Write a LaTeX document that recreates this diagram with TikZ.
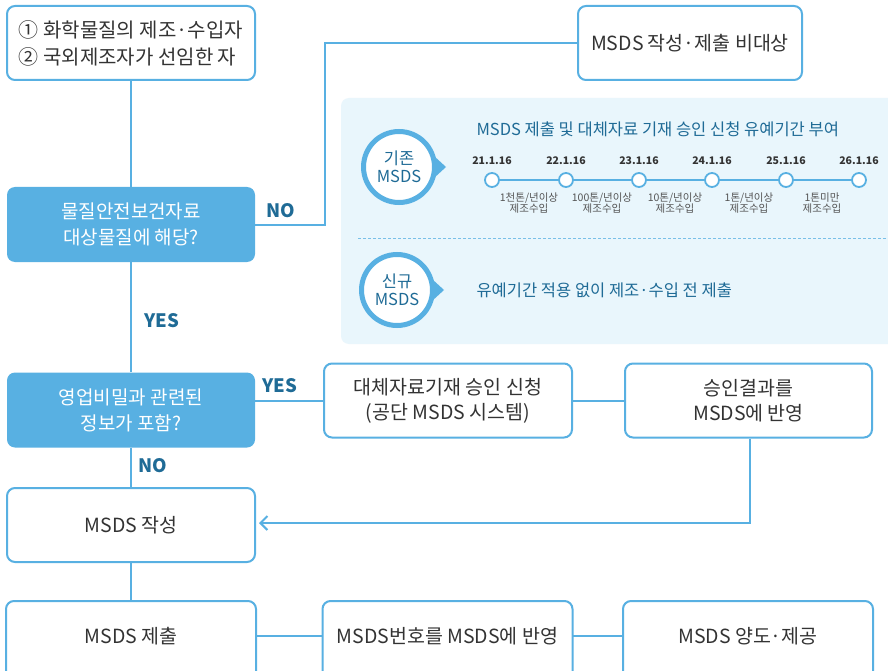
\documentclass[tikz,border=0pt]{standalone}
\usepackage{fontspec}
\setmainfont{Noto Sans CJK KR}
\usetikzlibrary{arrows.meta}
\definecolor{lineblue}{HTML}{58B0E2}
\definecolor{panelfill}{HTML}{E9F6FC}
\definecolor{darkblue}{HTML}{1F6B96}
\definecolor{txtgray}{HTML}{333333}
\definecolor{smallgray}{HTML}{555555}
\newcommand\fz[2]{\fontsize{#1pt}{#2pt}\selectfont}
\tikzset{
  conn/.style={draw=lineblue, line width=2pt},
  wbox/.style={draw=lineblue, line width=2pt, fill=white, rounded corners=8pt, minimum width=248pt, minimum height=74pt, align=center, text=txtgray, font=\fz{19.5}{25}, inner sep=0pt},
  fbox/.style={fill=lineblue, rounded corners=8pt, minimum width=248pt, minimum height=75pt, align=center, text=white, font=\fz{19}{26}, inner sep=0pt},
  lbl/.style={text=darkblue, font=\bfseries\fz{18.5}{20}},
  badge/.style={circle, draw=lineblue, line width=5pt, fill=white, minimum size=71pt, inner sep=0pt, align=center, text=darkblue, font=\fz{16.5}{18}},
  tdot/.style={circle, draw=lineblue, line width=1.8pt, fill=white, minimum size=14pt, inner sep=0pt},
  datetxt/.style={text=txtgray, font=\bfseries\fz{10.5}{13}},
  smalltxt/.style={text=smallgray, font=\fz{10.5}{11}, align=center},
}
\begin{document}
\begin{tikzpicture}[x=1pt,y=-1pt]
\useasboundingbox (0,0) rectangle (888,671);
\clip (0,0) rectangle (888,671);
\fill[white] (0,0) rectangle (888,671);

% info panel
\fill[panelfill, rounded corners=8pt] (341,98) rectangle (900,344);
\node[anchor=west, text=darkblue, font=\fz{16.5}{18}] (title) at (473,129) {MSDS 제출 및 대체자료 기재 승인 신청 유예기간 부여};
\node[badge] (old) at (399,167) {기존\\MSDS};
\fill[lineblue] ([shift={(-3,-11)}]old.east) -- ([shift={(9,0)}]old.east) -- ([shift={(-3,11)}]old.east) -- cycle;

\node[tdot] (t1) at (492,180) {};
\node[tdot] (t2) at (566,180) {};
\node[tdot] (t3) at (639,180) {};
\node[tdot] (t4) at (712,180) {};
\node[tdot] (t5) at (786,180) {};
\node[tdot] (t6) at (859,180) {};
\draw[conn] (t1) -- (t2) (t2) -- (t3) (t3) -- (t4) (t4) -- (t5) (t5) -- (t6);
\node[datetxt] (d1) at (492,161) {21.1.16};
\node[datetxt] (d2) at (566,161) {22.1.16};
\node[datetxt] (d3) at (639,161) {23.1.16};
\node[datetxt] (d4) at (712,161) {24.1.16};
\node[datetxt] (d5) at (786,161) {25.1.16};
\node[datetxt] (d6) at (859,161) {26.1.16};
\node[smalltxt] (s1) at (529,203) {1천톤/년이상\\제조수입};
\node[smalltxt] (s2) at (602,203) {100톤/년이상\\제조수입};
\node[smalltxt] (s3) at (675,203) {10톤/년이상\\제조수입};
\node[smalltxt] (s4) at (749,203) {1톤/년이상\\제조수입};
\node[smalltxt] (s5) at (822,203) {1톤미만\\제조수입};

\draw[lineblue!80, line width=1pt, dash pattern=on 3pt off 2pt] (358,238) -- (888,238);
\node[badge] (new) at (397,290) {신규\\MSDS};
\fill[lineblue] ([shift={(-3,-11)}]new.east) -- ([shift={(9,0)}]new.east) -- ([shift={(-3,11)}]new.east) -- cycle;
\node[anchor=west, text=darkblue, font=\fz{16.5}{18}] (newtxt) at (473,290) {유예기간 적용 없이 제조·수입 전 제출};

% flow nodes
\node[wbox, align=left, font=\fz{20}{27}] (who) at (131,43) {① 화학물질의 제조·수입자\\② 국외제조자가 선임한 자};
\node[fbox] (q1) at (131,224.5) {물질안전보건자료\\대상물질에 해당?};
\node[fbox] (q2) at (131,410) {영업비밀과 관련된\\정보가 포함?};
\node[wbox, minimum width=224pt] (non) at (690,43) {MSDS 작성·제출 비대상};
\node[wbox] (alt) at (448,400.5) {대체자료기재 승인 신청\\(공단 MSDS 시스템)};
\node[wbox, minimum width=247pt] (res) at (748.5,400.5) {승인결과를\\MSDS에 반영};
\node[wbox] (write) at (131,525) {MSDS 작성};
\coordinate (row) at (0,636);
\node[wbox, draw=none, fill=none, minimum height=68pt] (submit) at (131,636) {MSDS 제출};
\node[wbox, draw=none, fill=none, minimum height=68pt] (num) at (447.5,636) {MSDS번호를 MSDS에 반영};
\node[wbox, draw=none, fill=none, minimum height=68pt] (give) at (748,636) {MSDS 양도·제공};
\draw[conn, rounded corners=8pt] (submit.north west) rectangle ([yshift=-40pt]submit.south east);
\draw[conn, rounded corners=8pt] (num.north west) rectangle ([yshift=-40pt]num.south east);
\draw[conn, rounded corners=8pt] (give.north west) rectangle ([yshift=-40pt]give.south east);

% connectors
\draw[conn] (who) -- (q1);
\draw[conn] (q1.east) -- ++(70,0) |- (non.west);
\draw[conn] (q1) -- (q2);
\draw[conn] (q2.east |- alt.west) -- (alt.west);
\draw[conn] (alt) -- (res);
\draw[conn, -{Straight Barb[length=7pt,width=14pt,line width=2pt]}, shorten >=3pt] ([xshift=1.5pt]res.south) |- ([yshift=2pt]write.east);
\draw[conn] (q2) -- (write);
\draw[conn] (write) -- (submit.north);
\draw[conn] (submit.east |- row) -- (num.west |- row);
\draw[conn] (num.east |- row) -- (give.west |- row);

% labels
\node[lbl] (no1) at (281,211) {NO};
\node[lbl] (yes1) at (162,321) {YES};
\node[lbl] (yes2) at (280,386) {YES};
\node[lbl] (no2) at (153,466) {NO};
\end{tikzpicture}
\end{document}
